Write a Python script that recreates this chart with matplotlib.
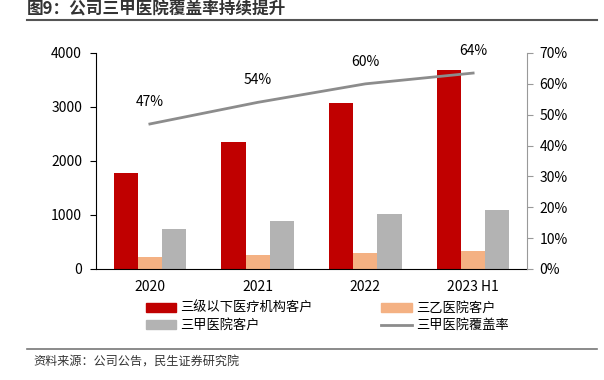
import numpy as np
import matplotlib.pyplot as plt
from matplotlib.lines import Line2D
from matplotlib.patches import Patch
from matplotlib.ticker import PercentFormatter

plt.rcParams['font.family'] = ['Noto Sans CJK SC', 'DejaVu Sans']

# ---- data ----
years    = ["2020", "2021", "2022", "2023 H1"]
below3   = [1780, 2350, 3075, 3685]     # 三级以下医疗机构客户
class3b  = [215, 255, 295, 335]         # 三乙医院客户
class3a  = [740, 885, 1025, 1085]       # 三甲医院客户
coverage = [0.47, 0.54, 0.60, 0.635]    # 三甲医院覆盖率
cov_lbl  = ["47%", "54%", "60%", "64%"]
# --------------

RED, ORANGE, GREY, LINE = "#C00000", "#F4B183", "#B3B3B3", "#8C8C8C"
FS = 10

fig = plt.figure(figsize=(6.04, 3.8), dpi=100)
ax = fig.add_axes([96 / 604, 1 - 269 / 380, 431 / 604, 216 / 380])
ax2 = ax.twinx()

x = np.arange(len(years))
w = 0.225
ax.bar(x - w, below3, w, color=RED, zorder=2)
ax.bar(x, class3b, w, color=ORANGE, zorder=2)
ax.bar(x + w, class3a, w, color=GREY, zorder=2)

ax.set_xlim(-0.5, len(years) - 0.5)
ax.set_ylim(0, 4000)
ax.set_yticks(range(0, 4001, 1000))
ax.set_xticks(x)
ax.set_xticklabels(years)
ax.tick_params(axis="x", length=0, pad=8, labelsize=FS)
ax.tick_params(axis="y", length=4, direction="out", labelsize=FS, pad=6)
for s in ["top", "right"]:
    ax.spines[s].set_visible(False)
ax.spines["left"].set_color("black")
ax.spines["bottom"].set_color("black")

ax2.plot(x, coverage, color=LINE, lw=2, zorder=3)
for xi, yi, t in zip(x, coverage, cov_lbl):
    ax2.annotate(t, (xi, yi), xytext=(0, 11), textcoords="offset points",
                 ha="center", va="bottom", fontsize=FS)
ax2.set_ylim(0, 0.7)
ax2.set_yticks(np.arange(0, 0.71, 0.1))
ax2.yaxis.set_major_formatter(PercentFormatter(1.0, decimals=0))
ax2.tick_params(axis="y", length=4, direction="out", color="#999999", labelsize=FS, pad=5)
for s in ["top", "left", "bottom"]:
    ax2.spines[s].set_visible(False)
ax2.spines["right"].set_color("#999999")

# legend fills column-major: order so rows read red/orange, grey/line
handles = [
    Patch(color=RED, label="三级以下医疗机构客户"),
    Patch(color=GREY, label="三甲医院客户"),
    Patch(color=ORANGE, label="三乙医院客户"),
    Line2D([], [], color=LINE, lw=2, label="三甲医院覆盖率"),
]
fig.legend(handles=handles, ncol=2, loc="upper left", bbox_to_anchor=(146 / 604, 1 - 302 / 380),
           frameon=False, fontsize=9.5, handlelength=2.3, handleheight=0.6,
           borderpad=0, borderaxespad=0,
           columnspacing=5.2, labelspacing=0.3, handletextpad=0.3)

fig.text(27 / 604, 1 - 10 / 380, "图9：公司三甲医院覆盖率持续提升", fontsize=12,
         fontweight="bold", color="#333333", va="center", ha="left")
fig.add_artist(Line2D([27 / 604, 597 / 604], [1 - 20 / 380] * 2, color="#555555", lw=1.5))
fig.add_artist(Line2D([27 / 604, 597 / 604], [1 - 349 / 380] * 2, color="#777777", lw=1.2))
fig.text(33 / 604, 1 - 362 / 380, "资料来源：公司公告，民生证券研究院", fontsize=8.7,
         color="#333333", va="center", ha="left")

fig.savefig("out.png", dpi=100)
